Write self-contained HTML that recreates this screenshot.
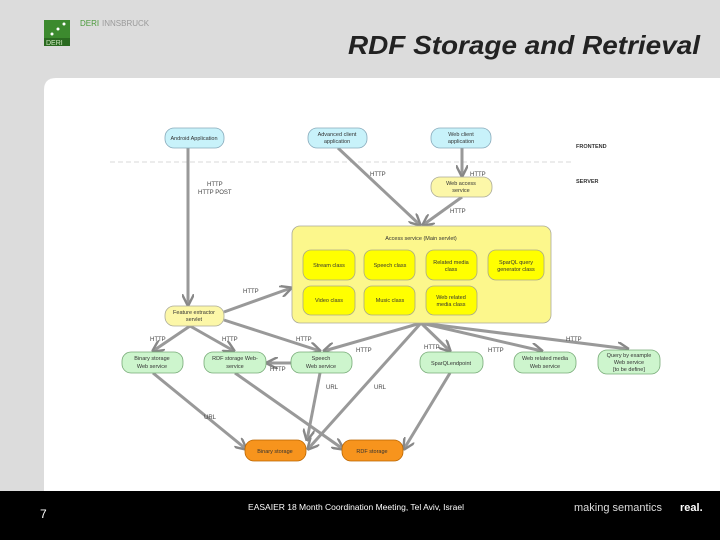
<!DOCTYPE html>
<html><head><meta charset="utf-8"><style>
body{margin:0;width:720px;height:540px;overflow:hidden;background:#dcdcdc;font-family:"Liberation Sans",sans-serif;position:relative}
</style></head><body>
<svg width="720" height="540" style="position:absolute;left:0;top:0" font-family="Liberation Sans, sans-serif">
<defs>
<marker id="a" viewBox="0 0 10 10" refX="9" refY="5" markerWidth="4" markerHeight="4" orient="auto"><path d="M0,0 L10,5 L0,10" fill="none" stroke="#888" stroke-width="2"/></marker>
</defs>
<rect x="0" y="0" width="720" height="540" fill="#dcdcdc"/>
<rect x="44" y="20" width="26" height="26" fill="#3c8a2e"/>
<rect x="44" y="38" width="26" height="8" fill="#2a6a20"/>
<text x="46" y="45" font-size="7" fill="#cfe8c0">DERI</text>
<circle cx="52" cy="34" r="1.5" fill="#fff"/><circle cx="58" cy="29" r="1.5" fill="#fff"/><circle cx="64" cy="24" r="1.5" fill="#fff"/>
<text x="80" y="26" font-size="8" fill="#4a9a3a">DERI</text>
<text x="102" y="26" font-size="8" fill="#999">INNSBRUCK</text>
<text x="348" y="54" font-size="26" font-weight="bold" font-style="italic" fill="#222" textLength="352" lengthAdjust="spacingAndGlyphs">RDF Storage and Retrieval</text>
<path d="M56,78 H720 V491 H44 V90 Q44,78 56,78 Z" fill="#fff"/>
<rect x="0" y="491" width="720" height="49" fill="#000"/>
<text x="40" y="518" font-size="12" fill="#fff">7</text>
<text x="356" y="510" font-size="8.5" fill="#fff" text-anchor="middle">EASAIER 18 Month Coordination Meeting, Tel Aviv, Israel</text>
<text x="574" y="511" font-size="11" fill="#ddd">making semantics</text>
<text x="680" y="511" font-size="11" font-weight="bold" fill="#fff">real.</text>

<line x1="110" y1="162" x2="572" y2="162" stroke="#ccc" stroke-dasharray="5,3" stroke-width="0.8"/>
<text x="576" y="148" font-size="5.5" font-weight="bold" fill="#333">FRONTEND</text>
<text x="576" y="183" font-size="5.5" font-weight="bold" fill="#333">SERVER</text>

<g stroke="#999" stroke-width="3" fill="none" marker-end="url(#a)">
<line x1="188" y1="148" x2="188" y2="305"/>
<line x1="338" y1="148" x2="420" y2="225"/>
<line x1="462" y1="148" x2="462" y2="176"/>
<line x1="462" y1="197" x2="423" y2="225"/>
<line x1="224" y1="312" x2="291" y2="288"/>
<line x1="190" y1="326" x2="153" y2="351"/>
<line x1="190" y1="326" x2="234" y2="351"/>
<line x1="224" y1="320" x2="320" y2="351"/>
<line x1="421" y1="323" x2="324" y2="351"/>
<line x1="421" y1="323" x2="450" y2="351"/>
<line x1="421" y1="323" x2="542" y2="351"/>
<line x1="421" y1="323" x2="628" y2="349"/>
<line x1="421" y1="323" x2="308" y2="449"/>
<line x1="291" y1="363" x2="267" y2="363"/>
<line x1="320" y1="373" x2="307" y2="440"/>
<line x1="153" y1="373" x2="246" y2="449"/>
<line x1="235" y1="373" x2="343" y2="449"/>
<line x1="450" y1="373" x2="404" y2="449"/>
</g>
<g font-size="6" fill="#444">
<text x="207" y="186">HTTP</text><text x="198" y="194">HTTP POST</text>
<text x="370" y="176">HTTP</text><text x="470" y="176">HTTP</text><text x="450" y="213">HTTP</text>
<text x="243" y="293">HTTP</text><text x="150" y="341">HTTP</text><text x="222" y="341">HTTP</text><text x="296" y="341">HTTP</text>
<text x="356" y="352">HTTP</text><text x="424" y="349">HTTP</text><text x="488" y="352">HTTP</text><text x="566" y="341">HTTP</text>
<text x="270" y="371">HTTP</text><text x="326" y="389">URL</text><text x="374" y="389">URL</text><text x="204" y="419">URL</text>
</g>
<g font-size="5.5" fill="#333" text-anchor="middle" stroke-width="0.8">
<rect x="165" y="128" width="59" height="20" rx="9" fill="#c8f2fa" stroke="#8ab"/><text x="194" y="140">Android Application</text>
<rect x="308" y="128" width="59" height="20" rx="9" fill="#c8f2fa" stroke="#8ab"/><text x="337" y="136">Advanced client</text><text x="337" y="143">application</text>
<rect x="431" y="128" width="60" height="20" rx="9" fill="#c8f2fa" stroke="#8ab"/><text x="461" y="136">Web client</text><text x="461" y="143">application</text>
<rect x="431" y="177" width="61" height="20" rx="9" fill="#fcf7a8" stroke="#aa9"/><text x="461" y="185">Web access</text><text x="461" y="192">service</text>
<rect x="292" y="226" width="259" height="97" rx="8" fill="#fcf78c" stroke="#aa9"/><text x="421" y="240">Access service (Main servlet)</text>
<g fill="#ffff00" stroke="#aa8">
<rect x="303" y="250" width="52" height="30" rx="8"/><rect x="364" y="250" width="51" height="30" rx="8"/><rect x="426" y="250" width="51" height="30" rx="8"/><rect x="488" y="250" width="56" height="30" rx="8"/>
<rect x="303" y="286" width="52" height="29" rx="8"/><rect x="364" y="286" width="51" height="29" rx="8"/><rect x="426" y="286" width="51" height="29" rx="8"/>
</g>
<text x="329" y="267">Stream class</text><text x="390" y="267">Speech class</text><text x="451" y="264">Related media</text><text x="451" y="271">class</text><text x="516" y="264">SparQL query</text><text x="516" y="271">generator class</text>
<text x="329" y="302">Video class</text><text x="390" y="302">Music class</text><text x="451" y="299">Web related</text><text x="451" y="306">media class</text>
<rect x="165" y="306" width="59" height="20" rx="9" fill="#fcf7a8" stroke="#aa9"/><text x="194" y="314">Feature extractor</text><text x="194" y="321">servlet</text>
<g fill="#cdf5cd" stroke="#7a7">
<rect x="122" y="352" width="61" height="21" rx="9"/><rect x="204" y="352" width="62" height="21" rx="9"/><rect x="291" y="352" width="61" height="21" rx="9"/><rect x="420" y="352" width="63" height="21" rx="9"/><rect x="514" y="352" width="62" height="21" rx="9"/><rect x="598" y="350" width="62" height="24" rx="9"/>
</g>
<text x="152" y="360">Binary storage</text><text x="152" y="368">Web service</text>
<text x="235" y="360">RDF storage Web-</text><text x="235" y="368">service</text>
<text x="321" y="360">Speech</text><text x="321" y="368">Web service</text>
<text x="451" y="365">SparQLendpoint</text>
<text x="545" y="360">Web related media</text><text x="545" y="368">Web service</text>
<text x="629" y="357">Query by example</text><text x="629" y="364">Web service</text><text x="629" y="371">[to be define]</text>
<rect x="245" y="440" width="61" height="21" rx="9" fill="#f7941d" stroke="#b60"/><text x="275" y="453">Binary storage</text>
<rect x="342" y="440" width="61" height="21" rx="9" fill="#f7941d" stroke="#b60"/><text x="372" y="453">RDF storage</text>
</g>
</svg>
</body></html>
